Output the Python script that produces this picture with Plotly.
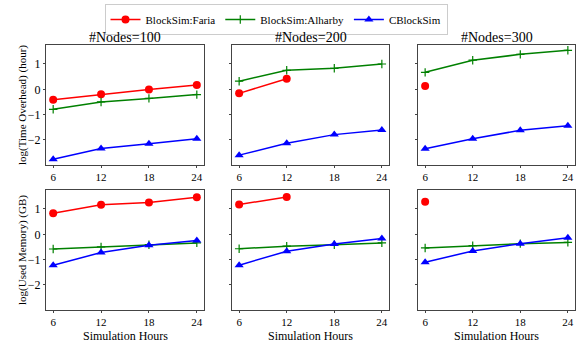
import plotly.graph_objects as go
from plotly.subplots import make_subplots

hours = [6, 12, 18, 24]
node_titles = ["#Nodes=100", "#Nodes=200", "#Nodes=300"]

# log(Time Overhead) (hour)
time_faria = [[-0.41, -0.20, -0.01, 0.17], [-0.16, 0.42], [0.13]]
time_alharby = [[-0.79, -0.50, -0.36, -0.21], [0.32, 0.75, 0.83, 1.00], [0.67, 1.15, 1.38, 1.54]]
time_cblock = [[-2.76, -2.34, -2.15, -1.95], [-2.60, -2.13, -1.79, -1.61], [-2.35, -1.95, -1.62, -1.44]]

# log(Used Memory) (GB)
mem_faria = [[0.83, 1.17, 1.26, 1.46], [1.18, 1.47], [1.29]]
mem_alharby = [[-0.58, -0.50, -0.41, -0.34], [-0.57, -0.47, -0.41, -0.34], [-0.54, -0.45, -0.37, -0.32]]
mem_cblock = [[-1.22, -0.72, -0.43, -0.24], [-1.22, -0.67, -0.38, -0.17], [-1.10, -0.66, -0.37, -0.14]]

W, H = 581, 349
fig = make_subplots(rows=2, cols=3)

series = [
    ("BlockSim:Faria", "#ff0000", dict(symbol="circle", size=8)),
    ("BlockSim:Alharby", "#008000", dict(symbol="cross-thin", size=6, line=dict(width=1.2, color="#008000"))),
    ("CBlockSim", "#0000ff", dict(symbol="triangle-up", size=8)),
]

for r, data in enumerate([(time_faria, time_alharby, time_cblock), (mem_faria, mem_alharby, mem_cblock)]):
    for c in range(3):
        for (name, color, mk), vals in zip(series, data):
            v = vals[c]
            fig.add_trace(go.Scatter(
                x=hours[:len(v)], y=v, mode="lines+markers", name=name,
                line=dict(color=color, width=1.5), marker=dict(color=color, **mk),
                showlegend=(r == 0 and c == 0)), row=r + 1, col=c + 1)

xdom = [(46, 204), (232, 389), (418, 575)]
ydom = [(45, 165), (190, 310)]
font = "Liberation Serif"
axis_style = dict(showgrid=False, zeroline=False, showline=True, mirror=True,
                  linecolor="#444", linewidth=1, ticks="outside", ticklen=2,
                  tickcolor="#444", tickfont=dict(family=font, size=12, color="black"))

for r in range(2):
    for c in range(3):
        i = r * 3 + c + 1
        xs = "xaxis" if i == 1 else f"xaxis{i}"
        ys = "yaxis" if i == 1 else f"yaxis{i}"
        fig.layout[xs].update(domain=[xdom[c][0] / W, xdom[c][1] / W], range=[5.1, 24.9],
                              tickvals=hours, **axis_style)
        fig.layout[ys].update(domain=[1 - ydom[r][1] / H, 1 - ydom[r][0] / H], range=[-2.99, 1.75],
                              tickvals=[-2, -1, 0, 1], showticklabels=(c == 0), **axis_style)
        fig.layout[xs].tickfont.size = 11


def note(text, x, y, size, angle=0):
    return dict(text=text, x=x / W, y=1 - y / H, xref="paper", yref="paper", showarrow=False,
                xanchor="center", yanchor="middle", textangle=angle,
                font=dict(family=font, size=size, color="black"))


annotations = []
for c in range(3):
    cx = (xdom[c][0] + xdom[c][1]) / 2
    annotations.append(note(node_titles[c], cx, 37, 14))
    annotations.append(note("Simulation Hours", cx, 336, 12))
annotations.append(note("log(Time Overhead) (hour)", 22, 105, 11, -90))
annotations.append(note("log(Used Memory) (GB)", 22, 250, 11, -90))

fig.update_layout(
    width=W, height=H, margin=dict(l=0, r=0, t=0, b=0),
    plot_bgcolor="white", paper_bgcolor="white",
    annotations=annotations,
    legend=dict(orientation="h", x=276 / W, y=1 - 4 / H, xanchor="center", yanchor="top",
                bordercolor="#ccc", borderwidth=1, bgcolor="white",
                font=dict(family=font, size=11, color="black"), itemwidth=30,
                tracegroupgap=0),
)

fig.write_html("out.html", config={"displayModeBar": False},
               post_script="document.body.style.margin='0';")
